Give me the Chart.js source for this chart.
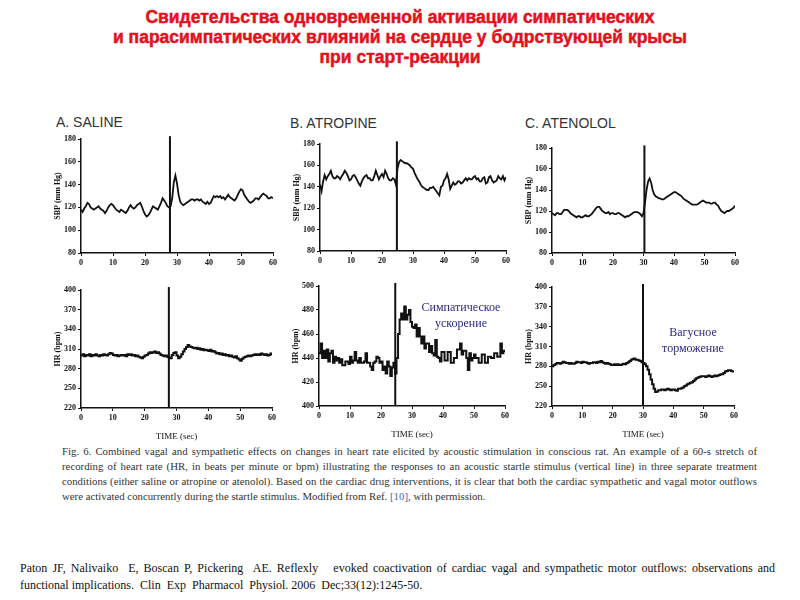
<!DOCTYPE html>
<html><head><meta charset="utf-8">
<script src="https://cdn.jsdelivr.net/npm/chart.js@4.4.1/dist/chart.umd.min.js"></script>
<style>
html,body{margin:0;padding:0;background:#fff;width:800px;height:600px;overflow:hidden;position:relative;}
.abs{position:absolute;}
#title{left:0;top:7px;width:800px;text-align:center;font-family:"Liberation Sans",Arial,sans-serif;font-weight:bold;font-size:17.5px;line-height:20px;color:#e4101c;-webkit-text-stroke:0.5px #e4101c;}
.ptitle{font-family:"Liberation Sans",Arial,sans-serif;font-size:14px;color:#333;}
.note{font-family:"Liberation Serif","Times New Roman",serif;font-size:12px;color:#2a2a80;text-align:center;line-height:16px;}
#caption{left:62px;top:444px;width:695px;font-family:"Liberation Serif","Times New Roman",serif;font-size:10.8px;line-height:15px;color:#333;text-align:justify;text-align-last:left;}
#ref{left:20px;top:560px;width:755px;font-family:"Liberation Serif","Times New Roman",serif;font-size:12px;line-height:17px;color:#111;text-align:justify;text-align-last:left;}
</style></head><body>
<div id="title" class="abs">Свидетельства одновременной активации симпатических<br>и парасимпатических влияний на сердце у бодрствующей крысы<br>при старт-реакции</div>
<div class="abs ptitle" style="left:56px;top:114px;">A. SALINE</div>
<div class="abs ptitle" style="left:290px;top:115px;">B. ATROPINE</div>
<div class="abs ptitle" style="left:525px;top:115px;">C. ATENOLOL</div>

<canvas id="cA1" class="abs"></canvas>
<canvas id="cA2" class="abs"></canvas>
<canvas id="cB1" class="abs"></canvas>
<canvas id="cB2" class="abs"></canvas>
<canvas id="cC1" class="abs"></canvas>
<canvas id="cC2" class="abs"></canvas>

<div class="abs note" style="left:401px;top:299px;width:120px;">Симпатическое<br>ускорение</div>
<div class="abs note" style="left:633px;top:324px;width:120px;">Вагусное<br>торможение</div>

<div id="caption" class="abs">Fig. 6. Combined vagal and sympathetic effects on changes in heart rate elicited by acoustic stimulation in conscious rat. An example of a 60-s stretch of recording of heart rate (HR, in beats per minute or bpm) illustrating the responses to an acoustic startle stimulus (vertical line) in three separate treatment conditions (either saline or atropine or atenolol). Based on the cardiac drug interventions, it is clear that both the cardiac sympathetic and vagal motor outflows were activated concurrently during the startle stimulus. Modified from Ref. <span style="color:#4a5fa8">[10]</span>, with permission.</div>
<div id="ref" class="abs">Paton JF, Nalivaiko&nbsp; E, Boscan P, Pickering&nbsp; AE. Reflexly&nbsp;&nbsp; evoked coactivation of cardiac vagal and sympathetic motor outflows: observations and functional implications.&nbsp; Clin&nbsp; Exp&nbsp; Pharmacol&nbsp; Physiol. 2006&nbsp; Dec;33(12):1245-50.</div>

<script>
// ---- DATA (sampled every 0.5 s, 0..60 s) ----
const sampleStep = 0.5;
const xTicks = [0, 10, 20, 30, 40, 50, 60];
const sbpTicks = [80, 100, 120, 140, 160, 180];
const hrTicksAC = [220, 250, 280, 310, 340, 370, 400];
const hrTicksB = [400, 420, 440, 460, 480, 500];
const stimSBP = [27.8, 24.8, 30.3];
const stimHR = [27.6, 24.6, 30.0];

const salineSBP = [118,116,119,121,124,123,120,119,118,119,
120,121,119,118,117,115,117,120,122,123,
122,120,118,117,116,118,117,116,115,117,
120,122,120,119,120,122,123,124,121,117,
114,112,113,115,118,121,120,119,118,121,
124,128,126,124,121,120,121,128,142,148,
141,131,125,123,122,123,124,125,126,127,
127,126,127,127,126,127,125,124,123,125,
123,124,127,130,129,130,129,130,128,129,
127,129,131,129,128,127,126,128,131,134,
136,135,131,129,127,125,124,125,126,128,
128,127,129,131,132,131,130,128,128,129,
128];
const salineHR = [300,302,299,301,300,302,299,301,300,302,
300,299,301,300,302,301,300,302,304,303,
301,300,301,299,300,301,300,301,299,302,
301,302,300,301,299,300,298,297,296,298,
300,301,303,305,304,305,306,304,305,303,
301,300,299,300,298,297,296,301,304,305,
300,296,298,302,306,310,313,316,314,313,
312,311,312,310,311,309,310,308,309,308,
307,309,306,307,305,303,304,302,303,301,
302,300,301,299,300,298,297,299,296,294,
292,295,297,298,299,300,299,300,301,302,
301,302,301,303,302,301,302,300,301,303,
301];
const atropineSBP = [142,136,145,151,147,150,152,155,150,148,
148,150,149,147,150,152,155,153,150,146,
147,150,151,149,146,143,141,145,148,150,
151,148,148,146,146,150,155,151,147,150,
152,149,155,152,148,146,146,148,147,142,
157,163,165,164,163,162,162,161,160,158,
157,153,150,147,145,142,140,139,138,137,
137,139,139,140,138,136,134,132,140,141,
146,148,152,147,138,141,144,142,143,145,
145,143,144,146,148,146,148,147,147,149,
150,147,148,145,145,148,149,143,144,149,
150,146,144,145,146,150,148,147,150,146,
149];
const atropineHR = [444,452,440,446,440,447,437,444,446,436,
441,438,440,436,439,434,434,437,437,435,
441,436,438,445,438,436,440,436,436,437,
444,436,436,433,430,436,437,441,440,436,
437,430,433,427,437,433,425,432,436,427,
440,460,472,477,472,483,472,476,480,470,
466,465,468,458,465,458,452,458,448,452,
452,445,450,444,442,455,441,440,437,445,
445,438,438,445,445,436,436,440,440,447,
447,452,443,446,446,440,430,444,438,440,
443,440,440,436,436,443,443,436,436,441,
441,440,440,444,444,441,441,452,444,446,
445];
const atenololSBP = [118,117,116,118,118,117,117,119,121,121,
121,120,118,117,116,115,114,115,115,114,
114,115,116,115,115,116,117,119,121,123,
124,124,122,120,119,118,118,119,117,118,
118,117,117,118,118,117,116,115,114,115,
115,116,117,118,119,119,119,118,117,115,
118,128,140,148,151,147,140,136,134,133,
132,132,131,131,132,133,134,135,136,137,
138,138,137,136,135,134,132,131,130,129,
128,127,126,126,126,126,127,128,129,130,
129,128,128,128,127,127,128,128,126,125,
122,120,119,118,119,120,120,121,122,123,
125];
const atenololHR = [280,282,283,285,285,284,285,287,286,285,
285,284,285,284,284,285,287,286,286,285,
287,286,286,285,284,285,285,286,286,285,
287,286,288,286,285,284,285,284,283,282,
282,283,282,283,282,282,283,284,283,285,
286,288,290,291,292,290,290,289,288,286,
285,283,280,275,268,260,253,246,241,242,
244,244,245,245,244,245,246,245,244,245,
245,244,243,246,246,247,248,250,251,253,
254,255,256,258,260,262,263,264,265,265,
265,264,265,266,265,264,265,266,265,266,
267,268,268,270,272,273,274,274,273,272,
272];

// ---- LAYOUT (plot boxes in page px) ----
const Y_W = 28, PAD_T = 8, PAD_R = 8;
const panels = [
  {id:'cA1', vals:salineSBP,   stim:stimSBP[0], ticks:sbpTicks,  title:'SBP (mm Hg)', box:[80.7,139.3,272.3,253.3], hr:false},
  {id:'cA2', vals:salineHR,    stim:stimHR[0],  ticks:hrTicksAC, title:'HR (bpm)',    box:[80.7,290.0,272.0,407.7], hr:true},
  {id:'cB1', vals:atropineSBP, stim:stimSBP[1], ticks:sbpTicks,  title:'SBP (mm Hg)', box:[320.0,144.3,505.7,251.7], hr:false},
  {id:'cB2', vals:atropineHR,  stim:stimHR[1],  ticks:hrTicksB,  title:'HR (bpm)',    box:[319.3,286.0,505.3,405.7], hr:true},
  {id:'cC1', vals:atenololSBP, stim:stimSBP[2], ticks:sbpTicks,  title:'SBP (mm Hg)', box:[551.7,147.7,734.3,252.7], hr:false},
  {id:'cC2', vals:atenololHR,  stim:stimHR[2],  ticks:hrTicksAC, title:'HR (bpm)',    box:[551.7,287.0,733.3,405.7], hr:true}
];

const tickFont = {family:'"Liberation Serif","Times New Roman",serif', size:8, weight:'bold'};

panels.forEach(p => {
  const xH = p.hr ? 34 : 20;
  const [x0,y0,x1,y1] = p.box;
  const L = x0 - Y_W, T = y0 - PAD_T;
  const W = Math.round(x1 - L + PAD_R), H = Math.round(y1 - T + xH);
  const cv = document.getElementById(p.id);
  cv.style.left = L + 'px'; cv.style.top = T + 'px';
  cv.width = W; cv.height = H;
  cv.style.width = W + 'px'; cv.style.height = H + 'px';
  const yMin = p.ticks[0], yMax = p.ticks[p.ticks.length-1];
  const trace = p.vals.map((v,i) => ({x: i*sampleStep, y: v}));
  const stimLine = [{x:p.stim, y:yMin}, {x:p.stim, y:yMax + (yMax-yMin)*0.025}];
  new Chart(cv, {
    type:'line',
    data:{datasets:[
      {data:trace, borderColor:'#111', borderWidth:p.hr ? 2 : 1.8, pointRadius:0, tension:0, fill:false, stepped:p.hr},
      {data:stimLine, borderColor:'#111', borderWidth:2, pointRadius:0, clip:false}
    ]},
    options:{
      responsive:false, animation:false, devicePixelRatio:1,
      layout:{padding:{top:PAD_T, right:PAD_R, left:0, bottom:0}},
      plugins:{legend:{display:false}, tooltip:{enabled:false}},
      scales:{
        x:{type:'linear', min:xTicks[0], max:xTicks[xTicks.length-1],
           afterFit:s=>{s.height = xH;},
           afterBuildTicks:s=>{s.ticks = xTicks.map(v=>({value:v}));},
           grid:{drawOnChartArea:false, drawTicks:true, tickLength:3, color:'#111'},
           border:{color:'#111', width:1.5},
           ticks:{color:'#111', font:tickFont, padding:2, maxRotation:0, autoSkip:false},
           title:{display:p.hr, text:'TIME (sec)', color:'#111', padding:{top:1,bottom:0},
                  font:{family:'"Liberation Serif","Times New Roman",serif', size:9}}},
        y:{type:'linear', min:yMin, max:yMax,
           afterFit:s=>{s.width = Y_W;},
           afterBuildTicks:s=>{s.ticks = p.ticks.map(v=>({value:v}));},
           grid:{drawOnChartArea:false, drawTicks:true, tickLength:3, color:'#111'},
           border:{color:'#111', width:1.5},
           ticks:{color:'#111', font:tickFont, padding:2, autoSkip:false},
           title:{display:true, text:p.title, color:'#111', padding:{top:0,bottom:1},
                  font:{family:'"Liberation Serif","Times New Roman",serif', size:8, weight:'bold'}}}
      }
    }
  });
});
</script>
</body></html>
